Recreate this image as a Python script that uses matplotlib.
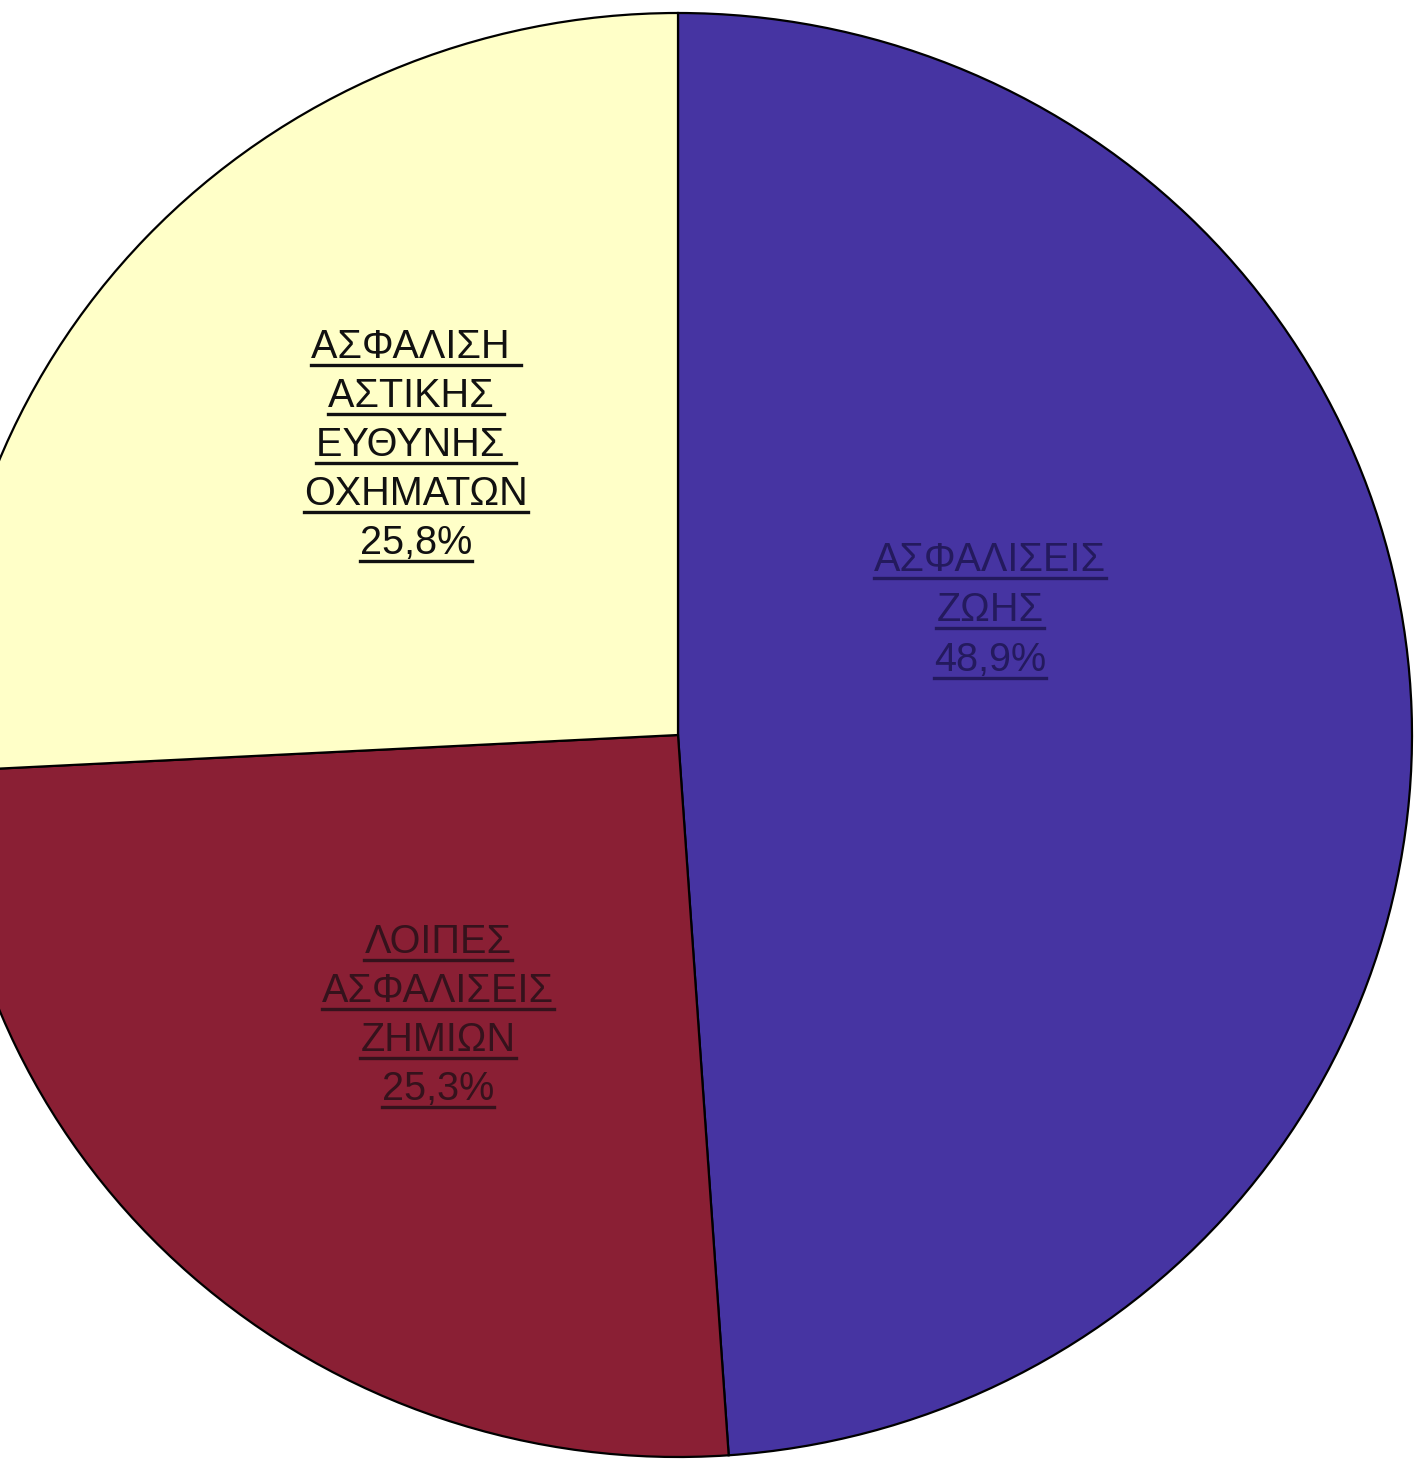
import numpy as np
import matplotlib
matplotlib.use("Agg")
import matplotlib.pyplot as plt
from matplotlib.lines import Line2D

# data
categories = ["ΑΣΦΑΛΙΣΕΙΣ ΖΩΗΣ", "ΛΟΙΠΕΣ ΑΣΦΑΛΙΣΕΙΣ ΖΗΜΙΩΝ",
              "ΑΣΦΑΛΙΣΗ ΑΣΤΙΚΗΣ ΕΥΘΥΝΗΣ ΟΧΗΜΑΤΩΝ"]
values = [48.9, 25.3, 25.8]
label_lines = [
	["ΑΣΦΑΛΙΣΕΙΣ", "ΖΩΗΣ", "48,9%"],
	["ΛΟΙΠΕΣ", "ΑΣΦΑΛΙΣΕΙΣ", "ΖΗΜΙΩΝ", "25,3%"],
	["ΑΣΦΑΛΙΣΗ ", "ΑΣΤΙΚΗΣ ", "ΕΥΘΥΝΗΣ ", "ΟΧΗΜΑΤΩΝ", "25,8%"],
]

colors = ["#4634a2", "#8a1f34", "#ffffc8"]
text_colors = ["#241a5e", "#35121c", "#111111"]

W, H = 1425, 1460
cx, cy = 678, 735      # pie centre in pixels (from top-left)
rx, ry = 734, 722      # radius in pixels

fig = plt.figure(figsize=(W / 100, H / 100), dpi=100)
ax = fig.add_axes([0, 0, 1, 1])
ax.pie(values, colors=colors, startangle=90, counterclock=False,
       wedgeprops=dict(edgecolor="black", linewidth=1.6))
ax.set_aspect("auto")
ax.set_xlim(-cx / rx, (W - cx) / rx)
ax.set_ylim((cy - H) / ry, cy / ry)
ax.axis("off")

def px(x, y):
	return (x - cx) / rx, (cy - y) / ry

# label centre x and baseline y of first line (pixels), line step
label_pos = [(990, 571, 50), (438, 953, 49), (416, 358, 49)]

fig.canvas.draw()
renderer = fig.canvas.get_renderer()

for lines, (lx, ly, step), tc in zip(label_lines, label_pos, text_colors):
	for i, s in enumerate(lines):
		x, y = px(lx, ly + i * step)
		t = ax.text(x, y, s, ha="center", va="baseline", fontsize=28.5,
		            family=["Liberation Sans", "DejaVu Sans"], color=tc)
		bb = t.get_window_extent(renderer=renderer)
		base = ax.transData.transform((x, y))[1]
		uy = (base - 7) / H
		fig.add_artist(Line2D([bb.x0 / W, bb.x1 / W], [uy, uy],
		                      color=tc, linewidth=2.4,
		                      transform=fig.transFigure))

plt.savefig("out.png", dpi=100)
plt.close()
